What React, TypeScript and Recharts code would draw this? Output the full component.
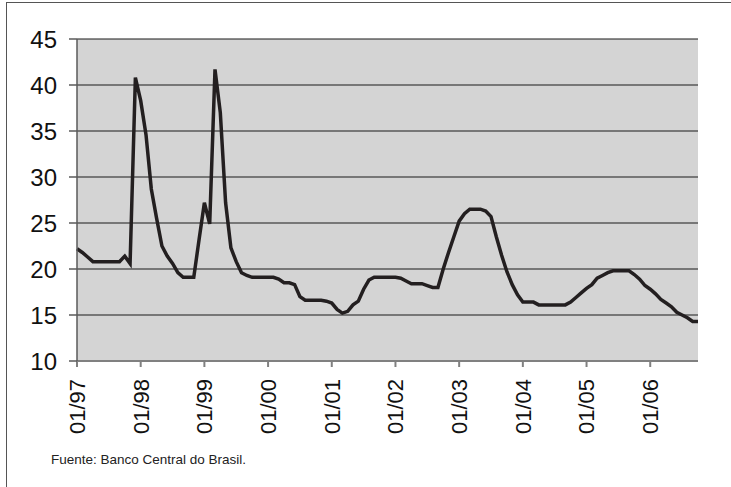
import { CartesianGrid, Line, LineChart, XAxis, YAxis } from "recharts";

// Tasa mensual (%), 01/97 .. 10/06
const rates = [
  22.2, 21.8, 21.3, 20.8, 20.8, 20.8, 20.8, 20.8, 20.8, 21.4, 20.6, 40.8,
  38.3, 34.6, 28.7, 25.5, 22.5, 21.4, 20.6, 19.6, 19.1, 19.1, 19.1, 23.2,
  27.2, 24.9, 41.7, 37.0, 27.2, 22.3, 20.8, 19.6, 19.3, 19.1, 19.1, 19.1,
  19.1, 19.1, 18.9, 18.5, 18.5, 18.3, 17.0, 16.6, 16.6, 16.6, 16.6, 16.5,
  16.3, 15.6, 15.2, 15.4, 16.1, 16.5, 17.8, 18.8, 19.1, 19.1, 19.1, 19.1,
  19.1, 19.0, 18.7, 18.4, 18.4, 18.4, 18.2, 18.0, 18.0, 20.0, 21.8, 23.5,
  25.2, 26.0, 26.5, 26.5, 26.5, 26.3, 25.7, 23.5, 21.5, 19.7, 18.3, 17.2,
  16.4, 16.4, 16.4, 16.1, 16.1, 16.1, 16.1, 16.1, 16.1, 16.4, 16.9, 17.4,
  17.9, 18.3, 19.0, 19.3, 19.6, 19.8, 19.8, 19.8, 19.8, 19.4, 18.9, 18.2,
  17.8, 17.3, 16.7, 16.3, 15.9, 15.3, 15.0, 14.7, 14.3, 14.3,
];

const tickLabels = ["01/97", "01/98", "01/99", "01/00", "01/01", "01/02", "01/03", "01/04", "01/05", "01/06"];
const yTicks = [10, 15, 20, 25, 30, 35, 40, 45];

const data = rates.map((value, i) => ({ i, value }));
const xTicks = tickLabels.map((_, k) => k * 12);

const FONT = "'Liberation Sans', Arial, Helvetica, sans-serif";

function MonthTick({ x, y, payload }: any) {
  const label = tickLabels[Math.round(payload.value / 12)];
  return (
    <text
      x={x}
      y={y}
      dy="0.36em"
      transform={`rotate(-90 ${x} ${y})`}
      textAnchor="end"
      fontSize={22}
      fontFamily={FONT}
      fill="#111"
    >
      {label}
    </text>
  );
}

export default function App() {
  return (
    <div style={{ position: "absolute", left: 0, top: 0, width: 731, height: 487, background: "#fff", overflow: "hidden" }}>
      <div
        style={{
          position: "absolute",
          left: 6,
          top: 2,
          width: 740,
          height: 500,
          borderLeft: "1.5px solid #555",
          borderTop: "1.5px solid #555",
        }}
      />
      <LineChart width={731} height={487} data={data} margin={{ top: 39, right: 33, left: 0, bottom: 0 }}>
        <CartesianGrid vertical={false} fill="#d4d4d4" stroke="#1a1a1a" strokeWidth={1.2} />
        <XAxis
          type="number"
          dataKey="i"
          domain={[0, 117]}
          ticks={xTicks}
          interval={0}
          height={126}
          tickSize={6}
          tickMargin={12}
          stroke="#808080"
          strokeWidth={2}
          tick={<MonthTick />}
        />
        <YAxis
          domain={[10, 45]}
          ticks={yTicks}
          interval={0}
          width={77}
          tickSize={8}
          tickMargin={12}
          stroke="#5a5a5a"
          strokeWidth={1.5}
          tick={{ fontSize: 24, fill: "#111", fontFamily: FONT }}
        />
        <Line
          type="linear"
          dataKey="value"
          stroke="#231f20"
          strokeWidth={3.5}
          strokeLinejoin="miter"
          dot={false}
          activeDot={false}
          isAnimationActive={false}
        />
      </LineChart>
      <div
        style={{
          position: "absolute",
          left: 51,
          top: 452,
          fontSize: 13.5,
          fontFamily: FONT,
          color: "#222",
          whiteSpace: "nowrap",
        }}
      >
        Fuente: Banco Central do Brasil.
      </div>
    </div>
  );
}
